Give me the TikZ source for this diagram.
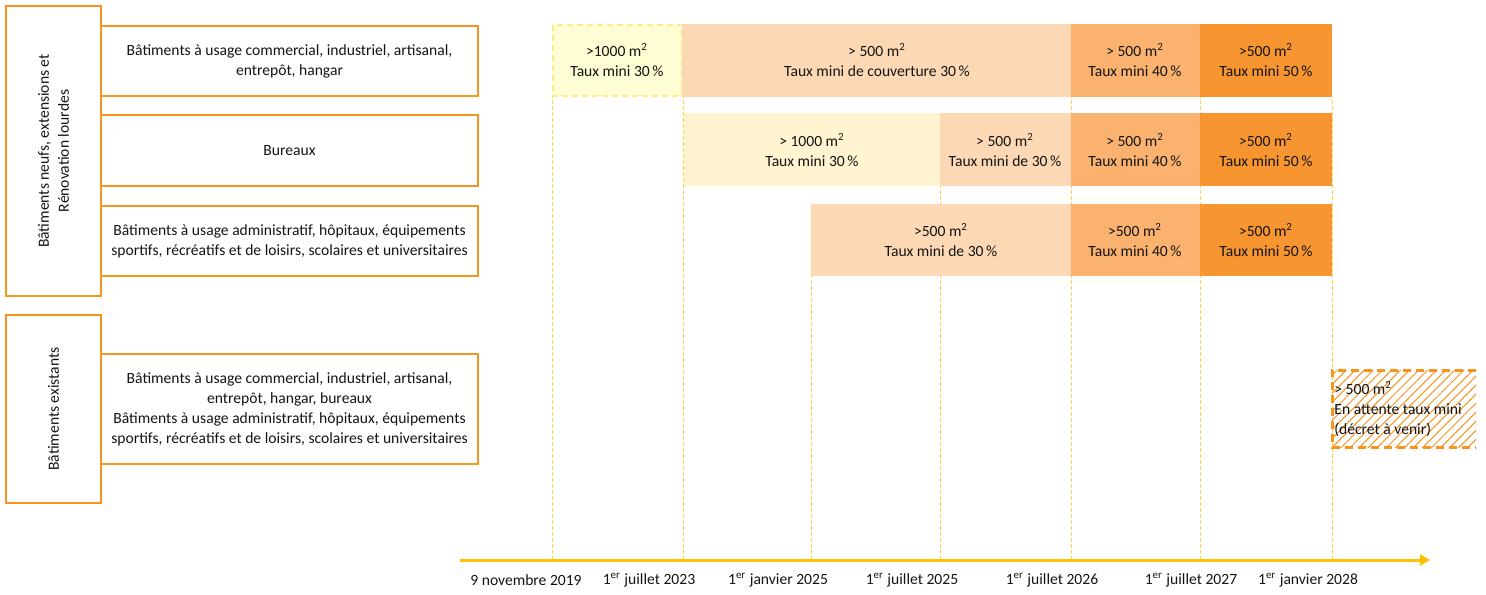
\documentclass[tikz,border=0pt]{standalone}
\usepackage{fontspec}
\setmainfont{Carlito}
\usepackage{tikz}
\usetikzlibrary{arrows.meta, patterns.meta}

\definecolor{orangeline}{RGB}{247,148,29}
\definecolor{paleyellow}{RGB}{255,253,212}
\definecolor{dashyellow}{RGB}{255,236,128}
\definecolor{lightyellow}{RGB}{255,243,208}
\definecolor{peach}{RGB}{252,217,180}
\definecolor{midorange}{RGB}{250,178,110}
\definecolor{deeporange}{RGB}{247,149,48}
\definecolor{axisyellow}{RGB}{255,192,0}
\definecolor{textgray}{RGB}{20,20,20}

\tikzset{
  every node/.style={font=\fontsize{7.8}{10}\selectfont, text=textgray},
  groupbox/.style={draw=orangeline, line width=1pt, rotate=90, minimum height=47.5pt, align=center},
  rowbox/.style={draw=orangeline, line width=0.8pt, minimum width=188.5pt, align=center},
  bartext/.style={align=center, inner sep=0pt},
  dateline/.style={axisyellow!70, line width=0.4pt, dash pattern=on 2pt off 1pt}
}

\begin{document}
\begin{tikzpicture}[x=0.5pt, y=-0.5pt]
\useasboundingbox (0,0) rectangle (1486,594);
\coordinate (t1) at (552,560);
\coordinate (t2) at (683,560);
\coordinate (t3) at (811,560);
\coordinate (t4) at (940,560);
\coordinate (t5) at (1071,560);
\coordinate (t6) at (1200,560);
\coordinate (t7) at (1332,560);
\coordinate (row1) at (0,97);
\coordinate (row2) at (0,186);
\coordinate (row3) at (0,276);
\coordinate (ax0) at (460,560);
\coordinate (ax1) at (1430,560);

\node[groupbox, minimum width=145pt] (g1) at (53.5,151) {B\^atiments neufs, extensions et\\R\'enovation lourdes};
\node[groupbox, minimum width=94pt] (g2) at (53.5,409) {B\^atiments existants};
\node[rowbox, minimum height=35pt] (r1) at (289.5,61) {B\^atiments \`a usage commercial, industriel, artisanal,\\entrep\^ot, hangar};
\node[rowbox, minimum height=35.5pt] (r2) at (289.5,150.5) {Bureaux};
\node[rowbox, minimum height=35pt] (r3) at (289.5,241) {B\^atiments \`a usage administratif, h\^opitaux, \'equipements\\sportifs, r\'ecr\'eatifs et de loisirs, scolaires et universitaires};
\node[rowbox, minimum height=55pt] (r4) at (289.5,409) {B\^atiments \`a usage commercial, industriel, artisanal,\\entrep\^ot, hangar, bureaux\\B\^atiments \`a usage administratif, h\^opitaux, \'equipements\\sportifs, r\'ecr\'eatifs et de loisirs, scolaires et universitaires};

\draw[dateline] (t1) -- (t1 |- row1);
\draw[dateline] (t2) -- (t2 |- row1);
\draw[dateline] (t3) -- (t3 |- row3);
\draw[dateline] (t4) -- (t4 |- row2);
\draw[dateline] (t5) -- (t5 |- row1);
\draw[dateline] (t6) -- (t6 |- row1);
\draw[dateline] (t7) -- (t7 |- row1);

\filldraw[fill=paleyellow, draw=dashyellow, line width=1.2pt, dash pattern=on 3pt off 2pt] (553,25) rectangle (682,96);
\fill[peach] (682,24) rectangle (1071,97);
\fill[midorange] (1071,24) rectangle (1200,97);
\fill[deeporange] (1200,24) rectangle (1332,97);
\node[bartext] (c11) at (617,60) {>1000 m\textsuperscript{2}\\Taux mini 30\,\%};
\node[bartext] (c12) at (877,60) {> 500 m\textsuperscript{2}\\Taux mini de couverture 30\,\%};
\node[bartext] (c13) at (1135,60) {> 500 m\textsuperscript{2}\\Taux mini 40\,\%};
\node[bartext] (c14) at (1266,60) {>500 m\textsuperscript{2}\\Taux mini 50\,\%};

\fill[lightyellow] (684,113) rectangle (940,186);
\fill[peach] (940,113) rectangle (1071,186);
\fill[midorange] (1071,113) rectangle (1200,186);
\fill[deeporange] (1200,113) rectangle (1332,186);
\node[bartext] (c21) at (812,150) {> 1000 m\textsuperscript{2}\\Taux mini 30\,\%};
\node[bartext] (c22) at (1005,150) {> 500 m\textsuperscript{2}\\Taux mini de 30\,\%};
\node[bartext] (c23) at (1135,150) {> 500 m\textsuperscript{2}\\Taux mini 40\,\%};
\node[bartext] (c24) at (1266,150) {>500 m\textsuperscript{2}\\Taux mini 50\,\%};

\fill[peach] (811,204) rectangle (1071,276);
\fill[midorange] (1071,204) rectangle (1200,276);
\fill[deeporange] (1200,204) rectangle (1332,276);
\node[bartext] (c31) at (941,240) {>500 m\textsuperscript{2}\\Taux mini de 30\,\%};
\node[bartext] (c32) at (1135,240) {>500 m\textsuperscript{2}\\Taux mini 40\,\%};
\node[bartext] (c33) at (1266,240) {>500 m\textsuperscript{2}\\Taux mini 50\,\%};

\path[pattern={Lines[angle=45, distance=3.2pt, line width=0.5pt]}, pattern color=orangeline] (1332,370) rectangle (1476,447);
\draw[orangeline, line width=1.5pt, dash pattern=on 4pt off 2.5pt] (1476,370) -- (1332,370) -- (1332,447) -- (1476,447);
\node[bartext, anchor=west, align=left] (c41) at (1334,409) {> 500 m\textsuperscript{2}\\En attente taux mini\\(d\'ecret \`a venir)};

\draw[axisyellow, line width=1.5pt, -{Triangle[length=5pt, width=5.5pt]}] (ax0) -- (ax1);
\node (d1) at (526,580) {9 novembre 2019};
\node (d2) at (649,580) {1\textsuperscript{er} juillet 2023};
\node (d3) at (778,580) {1\textsuperscript{er} janvier 2025};
\node (d4) at (912,580) {1\textsuperscript{er} juillet 2025};
\node (d5) at (1052,580) {1\textsuperscript{er} juillet 2026};
\node (d6) at (1191,580) {1\textsuperscript{er} juillet 2027};
\node (d7) at (1308,580) {1\textsuperscript{er} janvier 2028};
\end{tikzpicture}
\end{document}
